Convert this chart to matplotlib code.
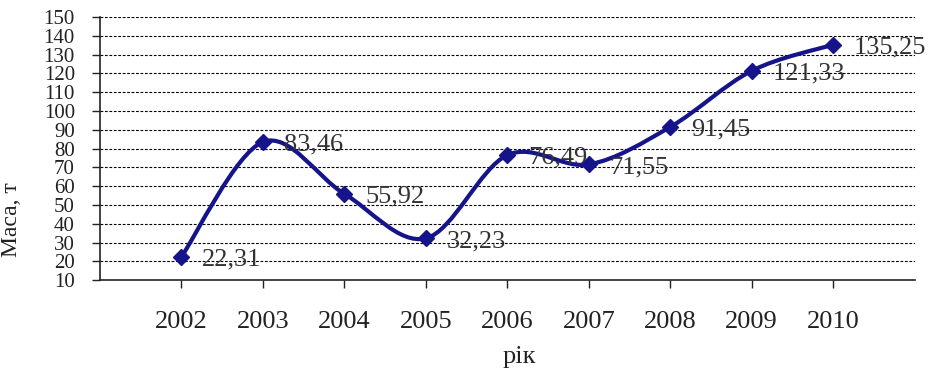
import numpy as np
import matplotlib.pyplot as plt
from matplotlib.path import Path
from matplotlib.patches import PathPatch

plt.rcParams["font.family"] = ["Liberation Serif", "DejaVu Serif"]

# Data
years = ["2002", "2003", "2004", "2005", "2006", "2007", "2008", "2009", "2010"]
mass = [22.31, 83.46, 55.92, 32.23, 76.49, 71.55, 91.45, 121.33, 135.25]
point_labels = ["22,31", "83,46", "55,92", "32,23", "76,49", "71,55", "91,45", "121,33", "135,25"]
y_ticks = list(range(10, 151, 10))

LINE_COLOR = "#16148a"
TEXT_COLOR = "#333333"


def smooth_path(x, y):
    """Excel-like smoothed line: cubic Bezier through points."""
    x = np.asarray(x, dtype=float)
    y = np.asarray(y, dtype=float)
    n = len(x)
    verts = [(x[0], y[0])]
    codes = [Path.MOVETO]
    for i in range(n - 1):
        p0 = np.array([x[max(i - 1, 0)], y[max(i - 1, 0)]])
        p1 = np.array([x[i], y[i]])
        p2 = np.array([x[i + 1], y[i + 1]])
        p3 = np.array([x[min(i + 2, n - 1)], y[min(i + 2, n - 1)]])
        c1 = p1 + (p2 - p0) / 6.0
        c2 = p2 - (p3 - p1) / 6.0
        verts += [tuple(c1), tuple(c2), tuple(p2)]
        codes += [Path.CURVE4] * 3
    return Path(verts, codes)


fig = plt.figure(figsize=(9.42, 3.76), dpi=100)
ax = fig.add_axes([0.106, 0.255, 0.865, 0.70])

xs = np.arange(len(years))
ax.add_patch(PathPatch(smooth_path(xs, mass), facecolor="none",
                       edgecolor=LINE_COLOR, linewidth=3, zorder=3))
ax.plot(xs, mass, linestyle="none", marker="D", markersize=8,
        color=LINE_COLOR, zorder=4)

for x, v, lab in zip(xs, mass, point_labels):
    ax.annotate(lab, (x, v), xytext=(15, -2), textcoords="offset points",
                ha="left", va="center", fontsize=19, color=TEXT_COLOR, zorder=5)

ax.set_xlim(-1, 9)
ax.set_ylim(10, 150)
ax.set_yticks(y_ticks)
ax.set_yticklabels([str(t) for t in y_ticks])
ax.set_xticks(xs)
ax.set_xticklabels(years)

for t in y_ticks[1:]:
    ax.axhline(t, color="black", linestyle=(0, (2.5, 1.5)), linewidth=0.8, zorder=1)

for side in ["top", "right"]:
    ax.spines[side].set_visible(False)
for side in ["left", "bottom"]:
    ax.spines[side].set_color("#222222")
    ax.spines[side].set_linewidth(1.2)

ax.tick_params(axis="y", length=6, width=1, pad=12, labelsize=15, colors="#222222")
ax.tick_params(axis="x", length=6, width=1, pad=16, labelsize=19, colors="#222222")

ax.set_ylabel("Маса, т", fontsize=17, color="#222222", labelpad=2)
ax.yaxis.set_label_coords(-0.095, 0.23)
ax.set_xlabel("рік", fontsize=19, color="#222222")
ax.xaxis.set_label_coords(0.515, -0.25)

fig.savefig("out.png", dpi=100)
